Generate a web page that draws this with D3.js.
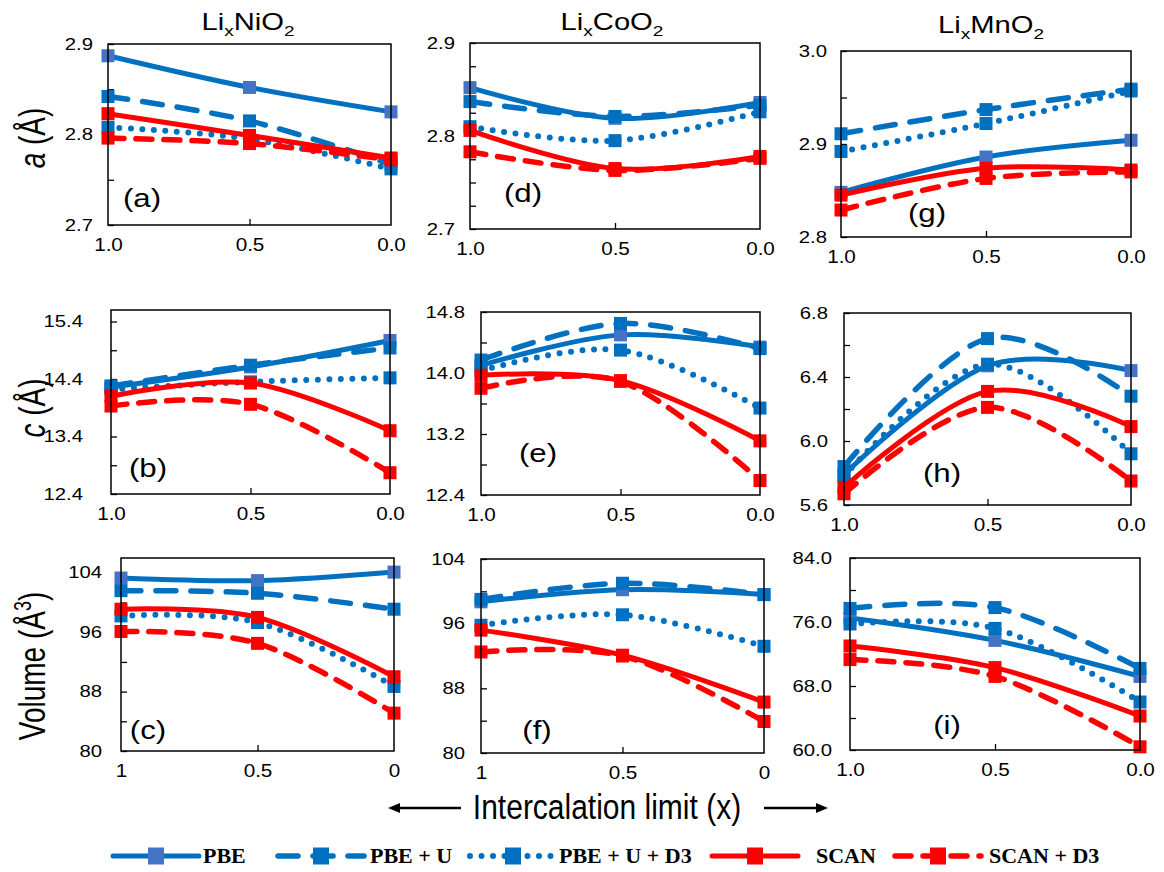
<!DOCTYPE html>
<html>
<head>
<meta charset="utf-8">
<script src="https://cdn.jsdelivr.net/npm/d3@7"></script>
<style>
  body { margin: 0; background: #fff; }
  svg { display: block; }
  text { font-family: "Liberation Sans", Arial, sans-serif; fill: #000; }
  text.leg { font-family: "Liberation Serif", "Times New Roman", serif; font-weight: bold; }
</style>
</head>
<body>
<svg id="chart" width="1164" height="872"></svg>
<script>
// intercalation limit x
var xVals = [1, 0.5, 0];
var seriesNames = ["PBE", "PBE + U", "PBE + U + D3", "SCAN", "SCAN + D3"];

// rows follow seriesNames, columns follow xVals
var aNi = [[2.887, 2.852, 2.825], [2.842, 2.815, 2.767], [2.808, 2.795, 2.762], [2.823, 2.799, 2.774], [2.796, 2.790, 2.772]];
var aCo = [[2.852, 2.819, 2.836], [2.837, 2.821, 2.833], [2.810, 2.795, 2.826], [2.806, 2.765, 2.778], [2.783, 2.763, 2.776]];
var aMn = [[2.848, 2.886, 2.904], [2.911, 2.937, 2.959], [2.892, 2.922, 2.957], [2.845, 2.874, 2.872], [2.829, 2.863, 2.870]];
var cNi = [[14.26, 14.61, 15.07], [14.28, 14.64, 14.94], [14.22, 14.35, 14.42], [14.10, 14.33, 13.50], [13.93, 13.96, 12.77]];
var cCo = [[14.10, 14.50, 14.34], [14.17, 14.65, 14.32], [14.03, 14.30, 13.54], [13.97, 13.90, 13.11], [13.80, 13.89, 12.59]];
var cMn = [[5.79, 6.47, 6.44], [5.84, 6.64, 6.28], [5.78, 6.48, 5.92], [5.71, 6.31, 6.09], [5.67, 6.21, 5.75]];
var vNi = [[103.3, 102.95, 104.1], [101.6, 101.25, 99.1], [98.2, 97.3, 88.7], [99.1, 98.0, 90.0], [96.1, 94.5, 85.1]];
var vCo = [[98.7, 100.2, 99.6], [99.0, 101.0, 99.6], [95.8, 97.1, 93.2], [95.2, 92.1, 86.3], [92.5, 92.0, 83.9]];
var vMn = [[76.5, 73.7, 69.2], [77.7, 77.8, 70.2], [75.75, 75.2, 66.0], [73.0, 70.3, 64.25], [71.3, 69.2, 60.4]];

// axis ranges and tick values
var yTicksA = [2.7, 2.8, 2.9], yTicksAMn = [2.8, 2.9, 3.0];
var yTicksCNi = [12.4, 13.4, 14.4, 15.4], yTicksCCo = [12.4, 13.2, 14.0, 14.8], yTicksCMn = [5.6, 6.0, 6.4, 6.8];
var yTicksVNi = [80, 88, 96, 104], yTicksVMn = [60, 68, 76, 84];

var lineColors = ["#0070C0", "#0070C0", "#0070C0", "#FF0000", "#FF0000"],
    markColors = ["#4472C4", "#0070C0", "#0070C0", "#FF0000", "#FF0000"],
    dashes = [null, "20,15", "0,11.5", null, "16,12"],
    widths = [5, 5.5, 6, 5, 5.5];

var panels = [
  {id: "a", data: aNi, L: 108, R: 391, T: 44, B: 225, dom: [2.7, 2.9], ticks: yTicksA, minor: 0.05, fmt: ".1f", xfmt: ".1f", gap: 15, lab: [142, 198]},
  {id: "b", data: cNi, L: 111, R: 390, T: 310, B: 494, dom: [12.4, 15.6], ticks: yTicksCNi, minor: 0.5, fmt: ".1f", xfmt: ".1f", gap: 28, lab: [148, 468]},
  {id: "c", data: vNi, L: 121, R: 394, T: 558, B: 751, dom: [80, 106], ticks: yTicksVNi, minor: 4, fmt: "d", xfmt: "", gap: 19, lab: [148, 730]},
  {id: "d", data: aCo, L: 470, R: 760, T: 43, B: 229, dom: [2.7, 2.9], ticks: yTicksA, minor: 0.025, fmt: ".1f", xfmt: ".1f", gap: 15, lab: [523, 193]},
  {id: "e", data: cCo, L: 481, R: 760, T: 312, B: 495, dom: [12.4, 14.8], ticks: yTicksCCo, minor: 0.4, fmt: ".1f", xfmt: ".1f", gap: 16, lab: [538, 453]},
  {id: "f", data: vCo, L: 481, R: 764, T: 559, B: 753, dom: [80, 104], ticks: yTicksVNi, minor: 4, fmt: "d", xfmt: "", gap: 16, lab: [537, 730]},
  {id: "g", data: aMn, L: 841, R: 1131, T: 51, B: 237, dom: [2.8, 3.0], ticks: yTicksAMn, minor: 0.05, fmt: ".1f", xfmt: ".1f", gap: 14, lab: [927, 213]},
  {id: "h", data: cMn, L: 844, R: 1131, T: 313, B: 505, dom: [5.6, 6.8], ticks: yTicksCMn, minor: 0.2, fmt: ".1f", xfmt: ".1f", gap: 16, lab: [942, 473]},
  {id: "i", data: vMn, L: 850, R: 1140, T: 558, B: 750, dom: [60, 84], ticks: yTicksVMn, minor: 4, fmt: ".1f", xfmt: ".1f", gap: 18, lab: [947, 725]}
];

var svg = d3.select("#chart");
var SX = 1.27; // the figure's sans text is drawn a bit wide

panels.forEach(function(p){
  var g = svg.append("g");
  var x = d3.scaleLinear().domain([1, 0]).range([p.L, p.R]);
  var y = d3.scaleLinear().domain(p.dom).range([p.B, p.T]);

  // inside tick marks
  var minors = d3.range(p.dom[0], p.dom[1] + 1e-9, p.minor);
  g.append("g").attr("transform", "translate(" + p.L + ",0)")
    .call(d3.axisLeft(y).tickValues(minors).tickSize(-6).tickFormat(""))
    .call(function(s){ s.select(".domain").remove(); s.selectAll("line").attr("stroke-width", 1.3); });
  g.append("g").attr("transform", "translate(0," + p.B + ")")
    .call(d3.axisBottom(x).tickValues([0.5]).tickSize(-6).tickFormat(""))
    .call(function(s){ s.select(".domain").remove(); s.selectAll("line").attr("stroke-width", 1.3); });

  // y labels
  var yl = g.append("g").attr("transform", "translate(" + p.L + ",0)")
    .call(d3.axisLeft(y).tickValues(p.ticks).tickSize(0).tickFormat(d3.format(p.fmt)));
  yl.select(".domain").remove();
  yl.selectAll("text").attr("font-size", 16)
    .attr("x", -p.gap / SX).attr("transform", "scale(" + SX + ",1)");

  // x labels
  var xl = g.append("g").attr("transform", "translate(0," + p.B + ")")
    .call(d3.axisBottom(x).tickValues(xVals).tickSize(0).tickPadding(13)
      .tickFormat(p.xfmt ? d3.format(p.xfmt) : function(d){ return String(d); }));
  xl.select(".domain").remove();
  xl.selectAll("text").attr("font-size", 18).attr("transform", "scale(1.15,1)");

  // series
  var line = d3.line().x(function(d, i){ return x(xVals[i]); }).y(function(d){ return y(d); })
    .curve(d3.curveCardinal.tension(0));
  p.data.forEach(function(vals, k){
    g.append("path").attr("d", line(vals)).attr("fill", "none")
      .attr("stroke", lineColors[k]).attr("stroke-width", widths[k])
      .attr("stroke-dasharray", dashes[k]).attr("stroke-linecap", "round");
    g.selectAll(null).data(vals).enter().append("rect")
      .attr("x", function(d, i){ return x(xVals[i]) - 6.5; })
      .attr("y", function(d){ return y(d) - 6.5; })
      .attr("width", 13).attr("height", 13)
      .attr("fill", markColors[k]);
  });

  g.append("rect").attr("x", p.L).attr("y", p.T).attr("width", p.R - p.L).attr("height", p.B - p.T)
    .attr("fill", "none").attr("stroke", "#000").attr("stroke-width", 1.5);

  g.append("text").attr("transform", "translate(" + p.lab[0] + "," + (p.lab[1] + 9) + ") scale(1.25,1)")
    .attr("text-anchor", "middle").attr("font-size", 25).text("(" + p.id + ")");
});

// column titles
var titles = [["Ni", 248, 30], ["Co", 612, 30], ["Mn", 991, 33]];
titles.forEach(function(t){
  var tx = svg.append("text").attr("transform", "translate(" + t[1] + "," + t[2] + ") scale(1.27,1)")
    .attr("text-anchor", "middle").attr("font-size", 23);
  tx.append("tspan").text("Li");
  tx.append("tspan").attr("font-size", 15).attr("dy", 6).text("x");
  tx.append("tspan").attr("dy", -6).text(t[0] + "O");
  tx.append("tspan").attr("font-size", 15).attr("dy", 6).text("2");
});

// row titles
function rowTitle(cy, build){
  var t = svg.append("text").attr("transform", "translate(45," + cy + ") rotate(-90) scale(1,1.3)")
    .attr("text-anchor", "middle").attr("font-size", 28);
  build(t);
}
rowTitle(138, function(t){
  t.append("tspan").attr("font-style", "italic").text("a");
  t.append("tspan").text(" (\u00C5)");
});
rowTitle(408, function(t){
  t.append("tspan").attr("font-style", "italic").text("c");
  t.append("tspan").text(" (\u00C5)");
});
rowTitle(666, function(t){
  t.append("tspan").text("Volume (\u00C5");
  t.append("tspan").attr("font-size", 18).attr("dy", -11).text("3");
  t.append("tspan").attr("dy", 11).text(")");
});

// x title with arrows
svg.append("text").attr("transform", "translate(607,819) scale(1,1.15)")
  .attr("text-anchor", "middle").attr("font-size", 30).text("Intercalation limit (x)");
function arrow(x1, x2, yy){
  var dir = x2 > x1 ? 1 : -1;
  svg.append("line").attr("x1", x1).attr("x2", x2 - dir * 8).attr("y1", yy).attr("y2", yy)
    .attr("stroke", "#000").attr("stroke-width", 2.5);
  svg.append("path").attr("d", "M" + x2 + "," + yy + "L" + (x2 - dir * 12) + "," + (yy - 5) + "L" + (x2 - dir * 12) + "," + (yy + 5) + "Z")
    .attr("fill", "#000");
}
arrow(461, 388, 808);
arrow(764, 828, 808);

// legend
var legendX = [111, 276, 468, 710, 893], legendText = [203, 370, 559, 816, 989];
var ly = 856;
seriesNames.forEach(function(name, k){
  var x0 = legendX[k];
  svg.append("line").attr("x1", x0 + 2).attr("x2", x0 + 88).attr("y1", ly).attr("y2", ly)
    .attr("stroke", lineColors[k]).attr("stroke-width", widths[k])
    .attr("stroke-dasharray", dashes[k]).attr("stroke-linecap", "round");
  svg.append("rect").attr("x", x0 + 45 - 8).attr("y", ly - 8.5).attr("width", 16).attr("height", 17)
    .attr("fill", markColors[k]);
  svg.append("text").attr("class", "leg").attr("x", legendText[k]).attr("y", ly + 7)
    .attr("font-size", 22).text(name);
});
</script>
</body>
</html>
